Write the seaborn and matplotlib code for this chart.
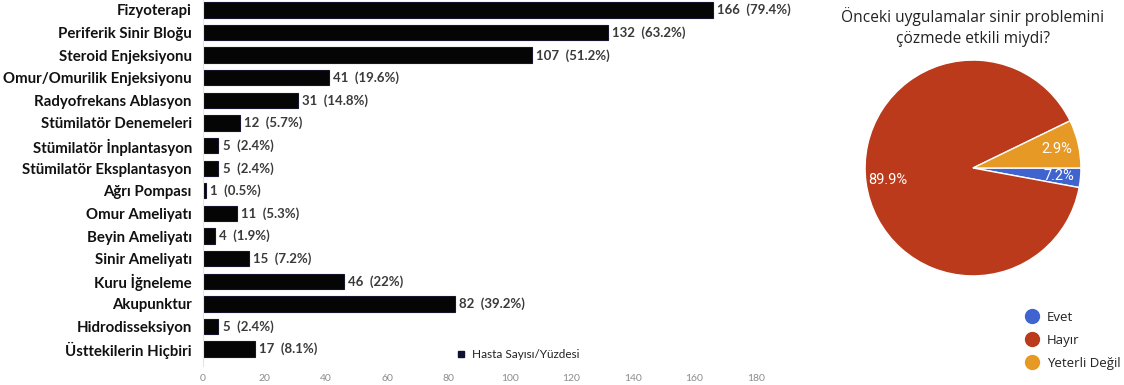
import numpy as np
import seaborn as sns
import matplotlib.pyplot as plt
from matplotlib.lines import Line2D

# bar chart data (top to bottom)
treatments = ['Fizyoterapi', 'Periferik Sinir Bloğu', 'Steroid Enjeksiyonu',
              'Omur/Omurilik Enjeksiyonu', 'Radyofrekans Ablasyon',
              'Stümilatör Denemeleri', 'Stümilatör İnplantasyon',
              'Stümilatör Eksplantasyon', 'Ağrı Pompası', 'Omur Ameliyatı',
              'Beyin Ameliyatı', 'Sinir Ameliyatı', 'Kuru İğneleme',
              'Akupunktur', 'Hidrodisseksiyon', 'Üsttekilerin Hiçbiri']
patients = [166, 132, 107, 41, 31, 12, 5, 5, 1, 11, 4, 15, 46, 82, 5, 17]
percents = ['79.4%', '63.2%', '51.2%', '19.6%', '14.8%', '5.7%', '2.4%', '2.4%',
            '0.5%', '5.3%', '1.9%', '7.2%', '22%', '39.2%', '2.4%', '8.1%']
x_ticks = [0, 20, 40, 60, 80, 100, 120, 140, 160, 180]

# pie chart data
pie_title = 'Önceki uygulamalar sinir problemini\nçözmede etkili miydi?'
answers = ['Evet', 'Hayır', 'Yeterli Değil']
wedge_sizes = [2.9, 89.9, 7.2]          # wedge sizes as drawn
wedge_texts = ['7.2%', '89.9%', '2.9%']  # labels as printed
pie_colors = ['#3f63cf', '#bb3a1b', '#e69a25']

sns.set_style('white')
plt.rcParams['font.family'] = ['Lato', 'DejaVu Sans']

W, H = 1124, 385
fig = plt.figure(figsize=(W / 100, H / 100), dpi=100)

# ---- horizontal bars ----
ax = fig.add_axes([203 / W, 1 - 366 / H, (771 - 203) / W, 366 / H])
sns.barplot(x=patients, y=treatments, orient='h', color='#050505',
            edgecolor='#15152e', linewidth=0.8, width=0.68, ax=ax)
ax.set_xlim(0, 185)
ax.set_ylim(15.75, -0.44)
ax.set_xticks(x_ticks)
ax.set_xticklabels([str(t) for t in x_ticks], fontsize=7.5, color='#8c8c8c')
ax.tick_params(axis='x', length=0, pad=6)
ax.tick_params(axis='y', length=3, color='#e4e4e4', pad=5)
for lbl in ax.get_yticklabels():
    lbl.set_fontweight('bold')
    lbl.set_fontsize(10.8)
    lbl.set_color('#111111')
for s in ['top', 'right', 'bottom']:
    ax.spines[s].set_visible(False)
ax.spines['left'].set_color('#e4e4e4')
ax.set_xlabel('')
ax.set_ylabel('')

for i, (v, p) in enumerate(zip(patients, percents)):
    ax.annotate(f'{v}  ({p})', (v, i), xytext=(3, 0), textcoords='offset points',
                va='center', ha='left', fontsize=9.5, fontweight='bold',
                color='#3a3a3a')

h = [Line2D([], [], marker='s', color='#111133', linestyle='', markersize=4)]
fig.legend(h, ['Hasta Sayısı/Yüzdesi'], loc='center left',
           bbox_to_anchor=(446 / W, 1 - 355 / H), frameon=False,
           fontsize=8.5, handlelength=0.8, handletextpad=0.5,
           labelcolor='#222222')

# ---- pie ----
cx, cy, r = 973, 168, 109
pax = fig.add_axes([(cx - r) / W, 1 - (cy + r) / H, 2 * r / W, 2 * r / H])
wedges, _ = pax.pie(wedge_sizes, colors=pie_colors, startangle=0,
                    counterclock=False,
                    wedgeprops=dict(edgecolor='white', linewidth=1))
ang = 0.0
for w, t in zip(wedge_sizes, wedge_texts):
    mid = np.deg2rad(ang - w * 3.6 / 2)
    ang -= w * 3.6
    pax.text(0.8 * np.cos(mid), 0.8 * np.sin(mid), t, ha='center', va='center',
             color='white', fontsize=10.5, family=['Roboto', 'DejaVu Sans'])
pax.set_xlim(-1.01, 1.01)
pax.set_ylim(-1.01, 1.01)
pax.set_aspect('auto')

fig.text(cx / W, 1 - 27 / H, pie_title, ha='center', va='center', fontsize=11.2,
         color='#222222', family=['Open Sans', 'DejaVu Sans'], linespacing=1.35)

ph = [Line2D([], [], marker='o', color=c, linestyle='', markersize=10)
      for c in pie_colors]
fig.legend(ph, answers, loc='upper left', bbox_to_anchor=(1014 / W, 1 - 299 / H),
           frameon=False, handlelength=1.0, handletextpad=0.6,
           labelspacing=0.75, labelcolor='#222222',
           prop={'family': ['Open Sans', 'DejaVu Sans'], 'size': 9.5})

fig.savefig('out.png', dpi=100)
